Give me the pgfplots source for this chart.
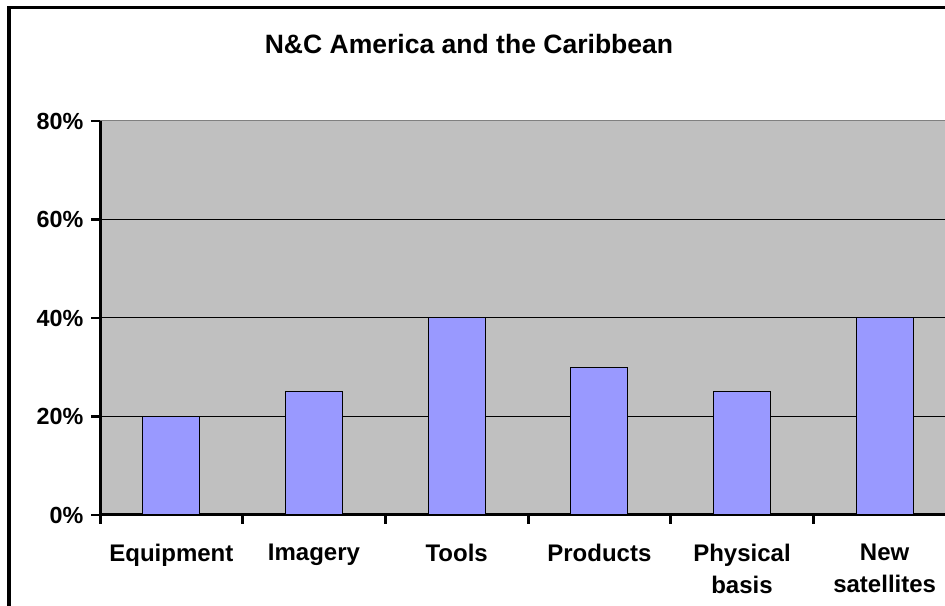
\documentclass[border=0pt]{standalone}
\usepackage{pgfplots}
\pgfplotsset{compat=1.18}
\usepackage{fontspec}
\setmainfont{Liberation Sans}
\definecolor{barc}{HTML}{9999FF}
\definecolor{bgc}{HTML}{C0C0C0}
\begin{document}
\begin{tikzpicture}
\useasboundingbox (0,0) rectangle (708.75pt,454.5pt);
\clip (0,0) rectangle (708.75pt,454.5pt);
\fill[white] (0,0) rectangle (708.75pt,454.5pt);
\draw[line width=2.5pt] (6.75pt,-20pt) -- (6.75pt,448.7pt) -- (740pt,448.7pt);
\node[font=\bfseries\fontsize{19.9}{22}\selectfont] at (351.75pt,421.5pt) {N\&C America and the Caribbean};
\begin{axis}[
  at={(75pt,68.25pt)}, anchor=south west,
  scale only axis, width=642pt, height=295.5pt,
  xmin=-0.5, xmax=5.5, ymin=0, ymax=80,
  axis x line*=bottom, axis y line*=left,
  axis line style={line width=2.25pt, -},
  axis background/.style={fill=bgc},
  ytick={0,20,40,60,80},
  yticklabels={0\%,20\%,40\%,60\%,80\%},
  ymajorgrids, grid style={black, line width=0.75pt},
  xtick={0,1,2,3,4,5},
  xticklabels={Equipment,Imagery,Tools,Products,{Physical\\basis},{New\\satellites}},
  minor xtick={-0.5,0.5,1.5,2.5,3.5,4.5,5.5},
  tick align=outside,
  major tick length=6.4pt, minor tick length=6.4pt,
  x tick style={draw=none},
  minor x tick style={draw=black, line width=2.25pt},
  y tick style={line width=2pt, black},
  xticklabel style={font=\bfseries\fontsize{18}{24}\selectfont, align=center, anchor=north, yshift=-12pt},
  yticklabel style={font=\bfseries\fontsize{17.5}{20}\selectfont, xshift=-2.5pt},
  ybar, bar width=0.4,
  clip=false,
]
\addplot[fill=barc, draw=black, line width=0.75pt] coordinates {(0,20) (1,25) (2,40) (3,30) (4,25) (5,40)};
\draw[gray, line width=0.75pt] (rel axis cs:0,1) -- (rel axis cs:1,1);
\end{axis}
\end{tikzpicture}
\end{document}
